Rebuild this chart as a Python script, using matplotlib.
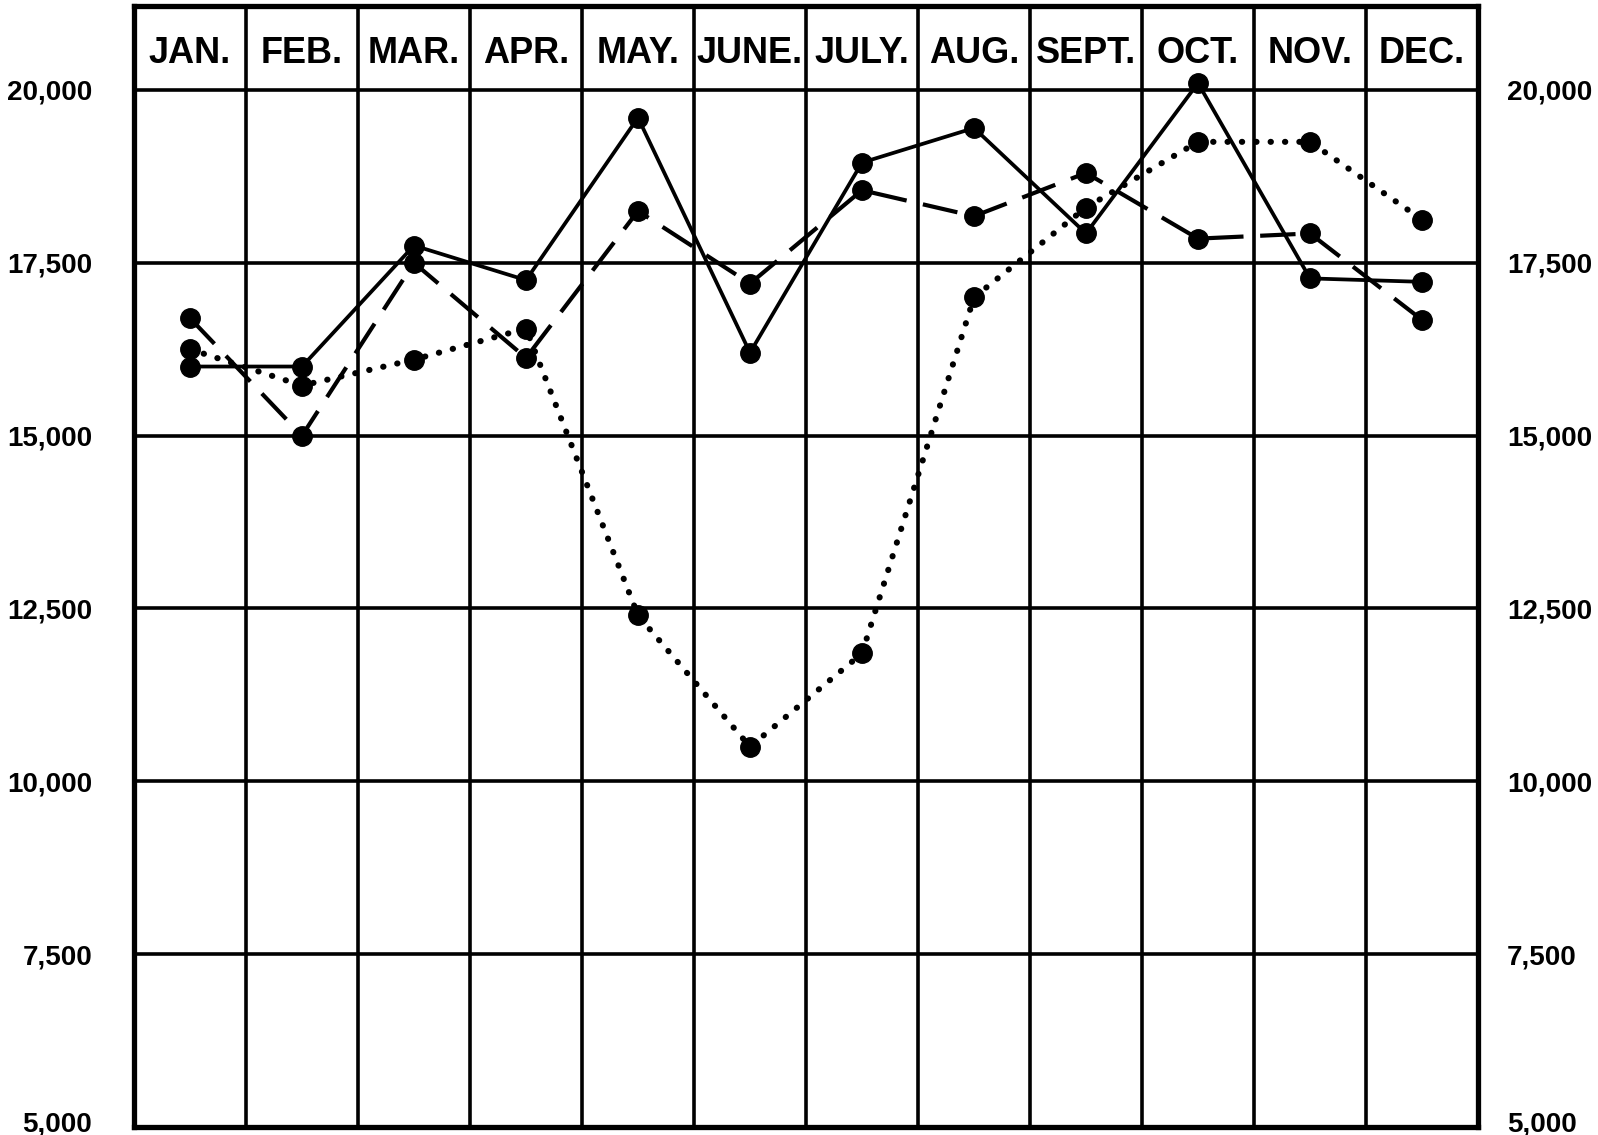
import matplotlib
matplotlib.use("Agg")
import matplotlib.pyplot as plt
import matplotlib.transforms as mtrans
import numpy as np

months = ["JAN.", "FEB.", "MAR.", "APR.", "MAY.", "JUNE.", "JULY.", "AUG.", "SEPT.", "OCT.", "NOV.", "DEC."]
solid = [16000, 16000, 17750, 17250, 19600, 16200, 18950, 19450, 17925, 20100, 17275, 17225]
dashed = [16700, 15000, 17500, 16125, 18250, 17200, 18550, 18175, 18800, 17850, 17925, 16675]
dotted = [16250, 15725, 16100, 16550, 12400, 10500, 11850, 17000, 18300, 19250, 19250, 18125]
yticks = [5000, 7500, 10000, 12500, 15000, 17500, 20000]
ylabels = ["5,000", "7,500", "10,000", "12,500", "15,000", "17,500", "20,000"]

header = 1215  # height of the month row, in data units

fig = plt.figure(figsize=(15.98, 11.35), dpi=100)
ax = fig.add_axes([134/1598, 8/1135, 1344/1598, 1121/1135])
ax.set_xlim(0, 12)
ax.set_ylim(5000, 20000 + header)
ax.set_xticks([])
ax.set_yticks([])

for y in yticks:
    ax.axhline(y, color="black", lw=2.6, zorder=1)
for i in range(13):
    ax.axvline(i, color="black", lw=2.6, zorder=1)
for s in ax.spines.values():
    s.set_linewidth(3.8)

x = np.arange(12) + 0.5
ax.plot(x, solid, color="black", lw=2.7, marker="o", ms=14, zorder=3)
ax.plot(x, dashed, color="black", lw=3.0, linestyle=(0, (8.5, 4)), marker="o", ms=14, zorder=3)
ax.plot(x, dotted, color="black", lw=4.4, linestyle=(0, (0.05, 2.3)), dash_capstyle="round",
        marker="o", ms=14, zorder=3)

font = ["Liberation Sans", "DejaVu Sans"]
for i, m in enumerate(months):
    ax.text(i + 0.5, 20000 + header/2 - 210, m, ha="center", va="baseline",
            fontsize=26, fontweight="bold", family=font)

# value labels on both sides, caps centred on the rule (bottom one nudged up)
trans = mtrans.blended_transform_factory(ax.transAxes, ax.transData)
for y, lab in zip(yticks, ylabels):
    dy = -7.2 if y > 5000 else -3.0
    off_l = mtrans.ScaledTranslation(-30/72, dy/72, fig.dpi_scale_trans)
    off_r = mtrans.ScaledTranslation(21/72, dy/72, fig.dpi_scale_trans)
    ax.text(0, y, lab, ha="right", va="baseline", fontsize=20, fontweight="bold",
            family=font, transform=trans + off_l, clip_on=False)
    ax.text(1, y, lab, ha="left", va="baseline", fontsize=20, fontweight="bold",
            family=font, transform=trans + off_r, clip_on=False)

fig.savefig("out.png", dpi=100)
